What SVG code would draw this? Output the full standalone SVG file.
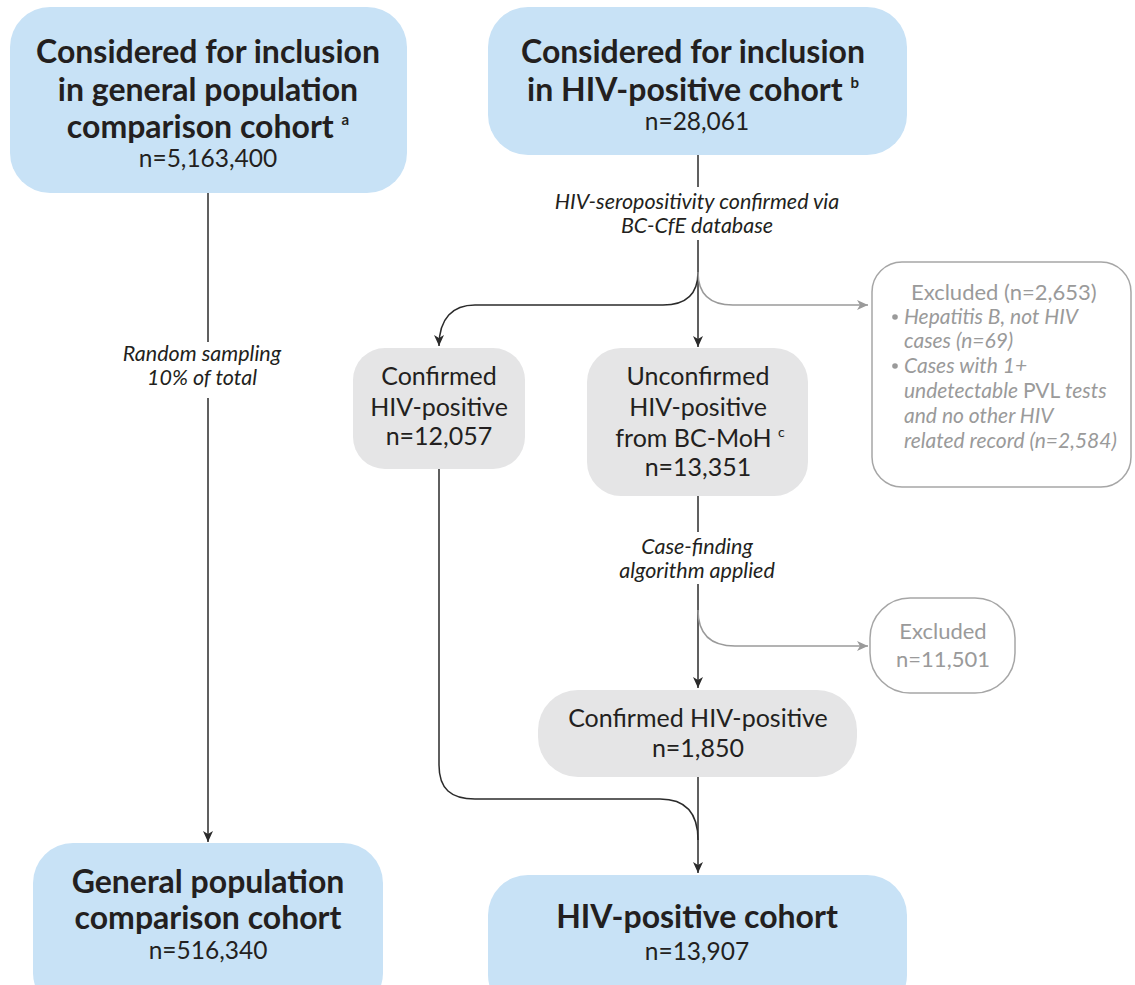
<svg xmlns="http://www.w3.org/2000/svg" width="1135" height="985" viewBox="0 0 1135 985">
<style>
text{font-family:Lato,"Noto Sans",sans-serif;fill:#231f20;text-anchor:middle}
.blue{fill:#c8e2f6}
.grey{fill:#e5e5e6}
.ex{fill:#fff;stroke:#a6a6a6;stroke-width:1.5}
.t{font-size:32px;font-weight:700}
.n{font-size:24.5px}
.g{font-size:25px}
.x{font-size:22px;fill:#9a9a9a}
.lab{font-size:21.5px;font-style:italic}
.bl{font-size:21px;font-style:italic;fill:#9a9a9a;text-anchor:start}
.sup{font-size:15px;font-weight:700}
.ln{fill:none;stroke:#2b2b2b;stroke-width:1.5}
.lg{fill:none;stroke:#9a9a9a;stroke-width:1.5}
</style>
<defs>
<marker id="ah" markerWidth="14" markerHeight="14" refX="12" refY="7" orient="auto" markerUnits="userSpaceOnUse"><path d="M1,2 L12,7 L1,12 L4,7 Z" fill="#2b2b2b"/></marker>
<marker id="ahg" markerWidth="14" markerHeight="14" refX="12" refY="7" orient="auto" markerUnits="userSpaceOnUse"><path d="M1,2 L12,7 L1,12 L4,7 Z" fill="#9a9a9a"/></marker>
</defs>

<g id="connectors">
<path class="ln" d="M208,193 V342"/>
<path class="ln" d="M208,398 V842" marker-end="url(#ah)"/>
<path class="ln" d="M698,155 V187"/>
<path class="ln" d="M698,240 V347" marker-end="url(#ah)"/>
<path class="ln" d="M698,272 C698,295 686,305 663,305 H475 C453,305 439,318 439,346" marker-end="url(#ah)"/>
<path class="lg" d="M698,272 C698,295 710,305 733,305 H868" marker-end="url(#ahg)"/>
<path class="ln" d="M698,496 V532"/>
<path class="ln" d="M698,584 V688" marker-end="url(#ah)"/>
<path class="lg" d="M698,610 C698,635 711,646 735,646 H868" marker-end="url(#ahg)"/>
<path class="ln" d="M698,777 V873" marker-end="url(#ah)"/>
<path class="ln" d="M439,469 V765 C439,789 451,799 475,799 H660 C684,799 698,812 698,840"/>
</g>

<g id="lbl-random">
<text class="lab" x="202" y="361">Random sampling</text>
<text class="lab" x="202" y="385">10% of total</text>
</g>
<g id="lbl-seropos">
<text class="lab" x="697" y="209">HIV-seropositivity confirmed via</text>
<text class="lab" x="697" y="233">BC-CfE database</text>
</g>
<g id="lbl-casefind">
<text class="lab" x="697" y="554">Case-finding</text>
<text class="lab" x="697" y="578">algorithm applied</text>
</g>

<g id="node-gen-consider">
<rect class="blue" x="10" y="7" width="397" height="186" rx="40"/>
<text class="t" x="208" y="63">Considered for inclusion</text>
<text class="t" x="208" y="101">in general population</text>
<text class="t" x="208" y="138">comparison cohort <tspan class="sup" dy="-13">a</tspan></text>
<text class="n" x="208" y="167">n=5,163,400</text>
</g>

<g id="node-hiv-consider">
<rect class="blue" x="488" y="7" width="419" height="148" rx="40"/>
<text class="t" x="693" y="63">Considered for inclusion</text>
<text class="t" x="693" y="101">in HIV-positive cohort <tspan class="sup" dy="-13">b</tspan></text>
<text class="n" x="697" y="130">n=28,061</text>
</g>

<g id="node-confirmed1">
<rect class="grey" x="353" y="348" width="172" height="121" rx="32"/>
<text class="g" x="439" y="385">Confirmed</text>
<text class="g" x="439" y="416">HIV-positive</text>
<text class="g" x="439" y="445">n=12,057</text>
</g>

<g id="node-unconfirmed">
<rect class="grey" x="587" y="348" width="221" height="148" rx="34"/>
<text class="g" x="698" y="385">Unconfirmed</text>
<text class="g" x="698" y="416">HIV-positive</text>
<text class="g" x="700" y="447">from BC-MoH <tspan font-size="14" dy="-10">c</tspan></text>
<text class="g" x="698" y="476">n=13,351</text>
</g>

<g id="node-excluded1">
<rect class="ex" x="872" y="262" width="259" height="225" rx="30"/>
<text class="x" x="911" y="300" style="text-anchor:start">Excluded (n=2,653)</text>
<circle cx="895" cy="317" r="2.8" fill="#9a9a9a"/>
<circle cx="895" cy="366" r="2.8" fill="#9a9a9a"/>
<text class="bl" x="904" y="324">Hepatitis B, not HIV</text>
<text class="bl" x="904" y="348">cases (n=69)</text>
<text class="bl" x="904" y="373">Cases with 1+</text>
<text class="bl" x="904" y="398">undetectable <tspan font-style="normal">PVL</tspan> tests</text>
<text class="bl" x="904" y="423">and no other HIV</text>
<text class="bl" x="904" y="448">related record (n=2,584)</text>
</g>

<g id="node-excluded2">
<rect class="ex" x="870" y="598" width="145" height="95" rx="40"/>
<text class="x" x="943" y="639">Excluded</text>
<text class="x" x="943" y="667">n=11,501</text>
</g>

<g id="node-confirmed2">
<rect class="grey" x="538" y="690" width="319" height="87" rx="40"/>
<text class="g" x="698" y="727">Confirmed HIV-positive</text>
<text class="g" x="698" y="757">n=1,850</text>
</g>

<g id="node-gen-cohort">
<rect class="blue" x="33" y="843" width="350" height="170" rx="40"/>
<text class="t" x="208" y="893">General population</text>
<text class="t" x="208" y="929">comparison cohort</text>
<text class="n" x="208" y="959">n=516,340</text>
</g>

<g id="node-hiv-cohort">
<rect class="blue" x="488" y="875" width="419" height="140" rx="40"/>
<text class="t" x="697" y="928">HIV-positive cohort</text>
<text class="n" x="697" y="960">n=13,907</text>
</g>
</svg>
